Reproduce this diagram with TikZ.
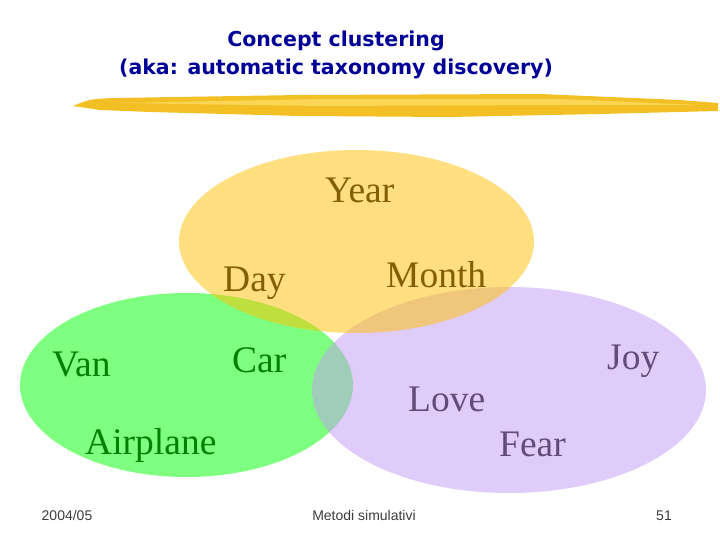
\documentclass[tikz,border=0pt]{standalone}
\usepackage{fontspec}
\setmainfont{Liberation Serif}
\newfontfamily\titlefont{DejaVu Sans}
\newfontfamily\footfont{Liberation Sans}
\usepackage{tikz}
\usetikzlibrary{shapes.geometric}

\definecolor{titleblue}{RGB}{0,0,150}
\definecolor{brushgold}{RGB}{242,192,36}
\definecolor{brushlight}{RGB}{250,214,84}
\definecolor{timefill}{RGB}{255,192,0}
\definecolor{vehfill}{RGB}{0,255,0}
\definecolor{emofill}{RGB}{194,153,245}
\definecolor{footgray}{RGB}{60,60,60}

\begin{document}
\begin{tikzpicture}[
  x=1pt, y=-1pt,
  term/.style={font=\fontsize{37.5}{40}\selectfont, anchor=base west, inner sep=0pt},
  cluster/.style={ellipse, inner sep=0pt, fill opacity=0.5, draw=none},
  heading/.style={font=\titlefont\bfseries\fontsize{20.5}{23}\selectfont, text=titleblue, align=center},
  foot/.style={font=\footfont\fontsize{14}{15}\selectfont, text=footgray, anchor=base}
]
\useasboundingbox (0,0) rectangle (720,540);

% title and brush stroke
\node[heading, anchor=base] (title1) at (336,47) {Concept clustering};
\node[heading, anchor=base] (title2) at (336,75) {(aka: automatic taxonomy discovery)};
\fill[brushgold] (73,106) .. controls (90,99) .. (115,98) -- (300,95) -- (540,94)
  -- (680,100) -- (718,103) -- (718,111) -- (600,114) -- (450,117) -- (300,116)
  -- (150,112) -- (100,110) -- cycle;
\fill[brushlight] (120,103) -- (320,99) -- (560,99) -- (700,105) -- (560,105)
  -- (320,106) -- cycle;

% terms (under the clusters)
\node[term] (year) at (325,203) {Year};
\node[term] (day) at (223,291) {Day};
\node[term] (month) at (386,287) {Month};
\node[term] (van) at (52,376) {Van};
\node[term] (car) at (232,372) {Car};
\node[term] (airplane) at (85,454) {Airplane};
\node[term] (love) at (408,411) {Love};
\node[term] (fear) at (499,456) {Fear};
\node[term] (joy) at (607,369) {Joy};

% clusters
\node[cluster, fill=vehfill, minimum width=333pt, minimum height=184pt] (vehicles) at (186.5,385) {};
\node[cluster, fill=emofill, minimum width=394pt, minimum height=206pt] (emotions) at (509,390) {};
\node[cluster, fill=timefill, minimum width=355pt, minimum height=183pt] (time) at (356.5,241.5) {};

% footer
\node[foot] (date) at (67,520) {2004/05};
\node[foot] (course) at (364,520) {Metodi simulativi};
\node[foot] (page) at (664,520) {51};
\end{tikzpicture}
\end{document}
